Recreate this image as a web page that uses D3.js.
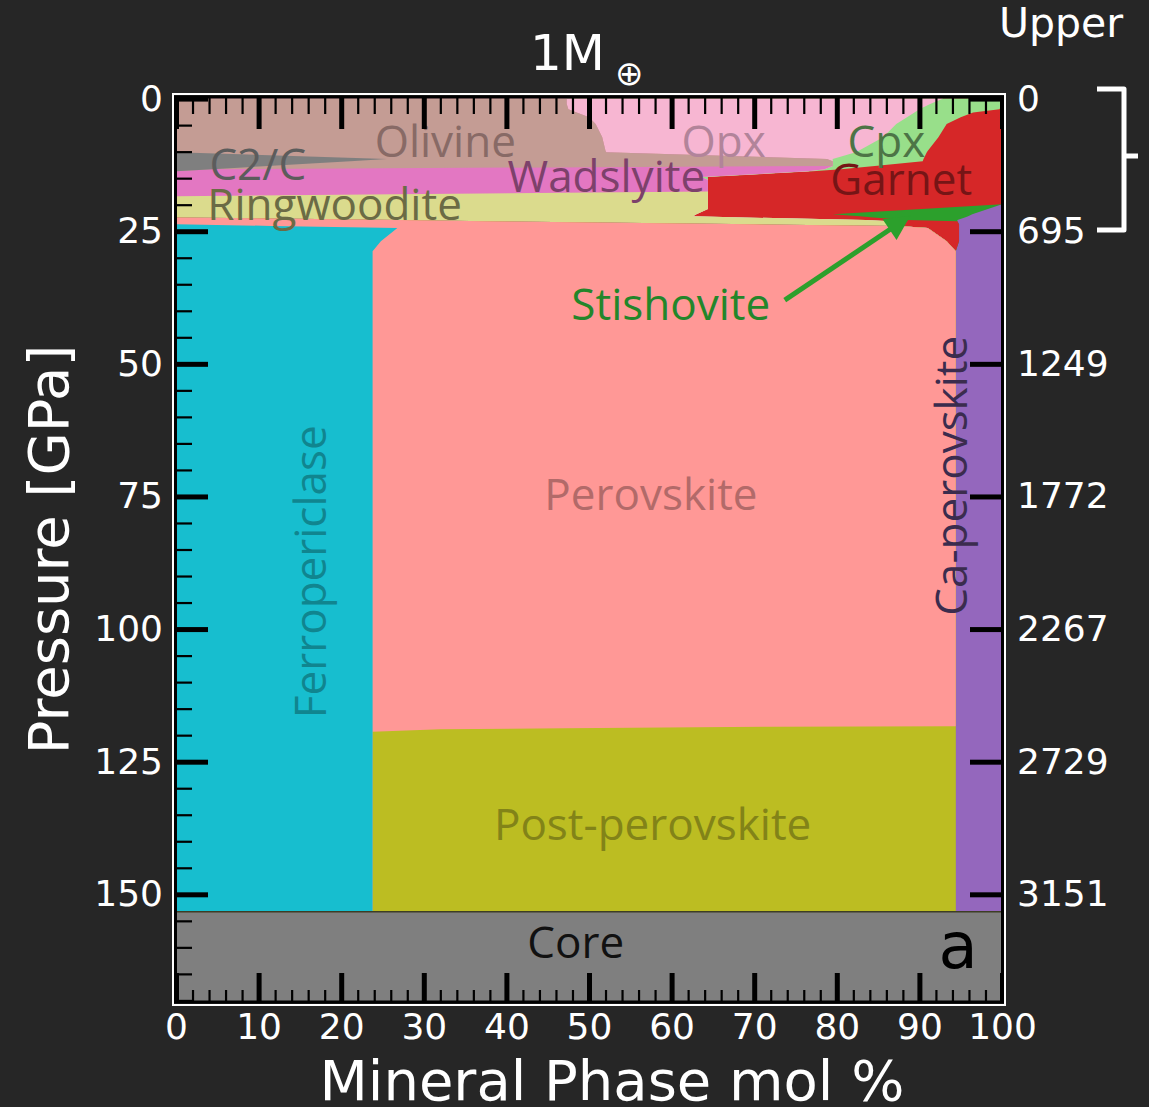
<!DOCTYPE html>
<html><head><meta charset="utf-8">
<script src="https://cdn.jsdelivr.net/npm/d3@7"></script>
<style>html,body{margin:0;padding:0;background:#262626;} svg{display:block}</style>
</head><body><svg id="c" width="1149" height="1107"></svg>
<script>
// ---------------- DATA ----------------
// pressure samples (GPa) and phase abundance (mol %) at each sample
const pressure       = [0, 1, 2, 2.6, 3.5, 4.8, 7.3, 9.9, 10.1, 11.4, 11.8, 12.7, 13.3, 13.7, 14.8, 15.3, 17.5, 18.4, 19.9, 20.8, 21.8, 22.2, 22.4, 22.9, 23.1, 23.7, 24.0, 24.4, 26.9, 28.8, 118.3, 118.4, 118.7, 118.9, 119.34, 153.3];
const ferropericlase = [0,0,0,0,0,0,0,0,0,0,0,0,0,0,0,0,0,0,0,0,0,0,0,0,0,0, 11.5, 26.8, 24.8, 23.8, 23.8, 23.8, 23.8, 23.8, 23.8, 23.8];
const perovskite     = [0,0,0,0,0,0,0,0,0,0,0,0,0,0,0,0,0,0,0,0,0,0, 0, 26.9, 37.6, 69.9, 76.0, 64.2, 68.5, 70.6, 70.6, 48.2, 23.4, 8.2, 0, 0];
const postPerovskite = [0,0,0,0,0,0,0,0,0,0,0,0,0,0,0,0,0,0,0,0,0,0,0,0,0,0,0,0,0,0,0, 22.4, 47.2, 62.4, 70.6, 70.6];
const c2c            = [0,0,0,0,0,0,0,0,0, 25.5, 21.1, 11.1, 4.4, 0,0,0,0,0,0,0,0,0,0,0,0,0,0,0,0,0,0,0,0,0,0,0];
const olivine        = [47.3, 47.3, 47.5, 48.5, 50.0, 50.8, 51.6, 52.0, 52.1, 53.3, 58.4, 68.4, 0, 0,0,0,0,0,0,0,0,0,0,0,0,0,0,0,0,0,0,0,0,0,0,0];
const wadslyite      = [0,0,0,0,0,0,0,0,0,0,0,0, 74.1, 76.5, 63.6, 64.4, 64.4, 0, 0,0,0,0,0,0,0,0,0,0,0,0,0,0,0,0,0,0];
const ringwoodite    = [0,0,0,0,0,0,0,0,0,0,0,0,0,0,0,0,0, 64.4, 64.4, 64.4, 63.0, 62.6, 68.6, 56.6, 48.9, 17.1, 0, 0,0,0,0,0,0,0,0,0];
const opx            = [45.6, 44.0, 42.5, 40.9, 38.5, 36.4, 34.0, 30.6, 30.2, 0.7, 0,0,0,0,0,0,0,0,0,0,0,0,0,0,0,0,0,0,0,0,0,0,0,0,0,0];
const cpx            = [7.1, 8.7, 9.7, 7.1, 6.5, 6.1, 6.7, 8.4, 8.6, 11.0, 10.9, 5.1, 2.0, 0.6, 0.8, 0,0,0,0,0,0,0,0,0,0,0,0,0,0,0,0,0,0,0,0,0];
const garnet         = [0, 0, 0.3, 3.5, 5.0, 6.7, 7.7, 9.0, 9.1, 9.5, 9.6, 15.4, 19.5, 22.9, 35.6, 35.6, 35.6, 35.6, 35.6, 25.9, 16.5, 20.2, 15.8, 5.0, 8.1, 7.8, 7.3, 3.8, 1.5, 0, 0,0,0,0,0,0];
const stishovite     = [0,0,0,0,0,0,0,0,0,0,0,0,0,0,0,0,0,0,0, 8.0, 16.9, 13.1, 11.1, 6.1, 0, 0,0,0,0,0,0,0,0,0,0,0];
const caPerovskite   = [0,0,0,0,0,0,0,0,0,0,0,0,0,0,0,0,0,0,0, 1.7, 3.6, 4.1, 4.5, 5.4, 5.4, 5.2, 5.2, 5.2, 5.2, 5.6, 5.6, 5.6, 5.6, 5.6, 5.6, 5.6];

const phaseKeys   = ["Fp","Pv","PPv","C2C","Ol","Wad","Ring","Opx","Cpx","Gt","St","CaPv"];
const phaseSeries = [ferropericlase, perovskite, postPerovskite, c2c, olivine, wadslyite, ringwoodite, opx, cpx, garnet, stishovite, caPerovskite];
const phaseColors = ["#17becf","#ff9896","#bcbd22","#7f7f7f","#c49c94","#e377c2","#dbdb8d","#f7b6d2","#98df8a","#d62728","#2ca02c","#9467bd"];

const coreRange = [153.3, 170.3];
const pressureTicks = [0, 25, 50, 75, 100, 125, 150];
const depthLabels = ["0", "695", "1249", "1772", "2267", "2729", "3151"];
const molTicks = [0, 10, 20, 30, 40, 50, 60, 70, 80, 90, 100];

// labels: [text, x (mol %), pressure (GPa), color, rotated]
const phaseLabels = [
  ["Olivine", 32.6, 11.0, "#886a66", false],
  ["C2/C", 9.9, 15.3, "#5c5c5c", false],
  ["Opx", 66.3, 11.0, "#b2849a", false],
  ["Cpx", 86.0, 11.0, "#4d7446", false],
  ["Wadslyite", 52.1, 17.6, "#7d416b", false],
  ["Garnet", 87.8, 18.2, "#761516", false],
  ["Ringwoodite", 19.2, 22.9, "#6b6b45", false],
  ["Stishovite", 59.9, 41.7, "#23862a", false],
  ["Perovskite", 57.5, 77.6, "#b26a69", false],
  ["Post-perovskite", 57.7, 139.8, "#828318", false],
  ["Core", 48.4, 162.0, "#111111", false],
  ["Ferropericlase", 16.1, 89.2, "#10858f", true],
  ["Ca-perovskite", 93.7, 71.1, "#3b2c4e", true]
];
const arrowTail = [73.7, 38.0];
const arrowTip  = [88.4, 22.6];

// ---------------- CHART ----------------
const W = 1149, H = 1107;
const svg = d3.select("#c");
svg.append("rect").attr("width", W).attr("height", H).attr("fill", "#262626");

const x = d3.scaleLinear().domain([0, 100]).range([176, 1002]);
const y = d3.scaleLinear().domain([-0.3, 170.3]).range([97, 1002]);

const rows = pressure.map((p, i) => {
  const r = {P: p};
  phaseKeys.forEach((k, j) => r[k] = phaseSeries[j][i]);
  return r;
});
const layers = d3.stack().keys(phaseKeys)(rows);

// painter's order: each layer filled from the left edge to its cumulative boundary, drawn right-most first
const area = d3.area()
  .curve(d3.curveLinear)
  .y(d => y(d.data.P))
  .x0(() => x(0))
  .x1(d => x(d[1]));

const gPlot = svg.append("g");
layers.slice().reverse().forEach(layer => {
  const idx = phaseKeys.indexOf(layer.key);
  gPlot.append("path").datum(layer).attr("d", area).attr("fill", phaseColors[idx]);
});

// core
gPlot.append("rect")
  .attr("x", x(0)).attr("width", x(100) - x(0))
  .attr("y", y(coreRange[0])).attr("height", y(coreRange[1]) - y(coreRange[0]))
  .attr("fill", "#7f7f7f");
gPlot.append("line")
  .attr("x1", x(0)).attr("x2", x(100))
  .attr("y1", y(coreRange[0])).attr("y2", y(coreRange[0]))
  .attr("stroke", "#3d3d25").attr("stroke-width", 1.5);

// labels
const labelFont = "'Open Sans', 'Noto Sans', sans-serif";
phaseLabels.forEach(([t, xv, pv, col, rot]) => {
  const tx = svg.append("text").text(t)
    .attr("font-family", labelFont).attr("font-size", 44)
    .attr("fill", col).attr("text-anchor", "middle");
  if (rot) {
    tx.attr("dominant-baseline", "central")
      .attr("transform", `translate(${x(xv)},${y(pv)}) rotate(-90)`);
  } else {
    tx.attr("x", x(xv)).attr("y", y(pv));
  }
});
svg.append("text").text("a")
  .attr("x", x(94.7)).attr("y", y(163.9))
  .attr("font-family", "'DejaVu Sans', sans-serif").attr("font-size", 64)
  .attr("fill", "#000").attr("text-anchor", "middle");

// stishovite arrow
const defs = svg.append("defs");
defs.append("marker").attr("id", "ah")
  .attr("viewBox", "0 0 10 10").attr("refX", 8).attr("refY", 5)
  .attr("markerWidth", 5.5).attr("markerHeight", 5).attr("orient", "auto")
  .append("path").attr("d", "M0,0 L10,5 L0,10 z").attr("fill", "#2ca02c");
svg.append("line")
  .attr("x1", x(arrowTail[0])).attr("y1", y(arrowTail[1]))
  .attr("x2", x(arrowTip[0])).attr("y2", y(arrowTip[1]))
  .attr("stroke", "#2ca02c").attr("stroke-width", 5)
  .attr("marker-end", "url(#ah)");

// axes
const tickFont = "'DejaVu Sans', sans-serif";
function styleAxis(g, width) {
  g.select(".domain").remove();
  g.selectAll(".tick line").attr("stroke", "#000").attr("stroke-width", width);
  g.selectAll(".tick text").attr("fill", "#fff").attr("font-size", 36).attr("font-family", tickFont);
  g.attr("font-family", tickFont);
}
const minorY = d3.range(0, 171, 5).filter(v => v % 25 !== 0);
const minorX = d3.range(0, 101, 2).filter(v => v % 10 !== 0);

// left
svg.append("g").attr("transform", `translate(${x(0)},0)`)
  .call(d3.axisLeft(y).tickValues(minorY).tickSizeInner(-16).tickSizeOuter(0).tickFormat(""))
  .call(g => styleAxis(g, 2.2));
svg.append("g").attr("transform", `translate(${x(0)},0)`)
  .call(d3.axisLeft(y).tickValues(pressureTicks).tickSizeInner(-32).tickSizeOuter(0).tickPadding(13).tickFormat(d3.format("d")))
  .call(g => styleAxis(g, 5));
// right
svg.append("g").attr("transform", `translate(${x(100)},0)`)
  .call(d3.axisRight(y).tickValues(pressureTicks).tickSizeInner(-32).tickSizeOuter(0).tickPadding(15)
    .tickFormat((d, i) => depthLabels[i]))
  .call(g => styleAxis(g, 5));
// top
svg.append("g").attr("transform", `translate(0,${y.range()[0]})`)
  .call(d3.axisTop(x).tickValues(minorX).tickSizeInner(-17).tickSizeOuter(0).tickFormat(""))
  .call(g => styleAxis(g, 2.2));
svg.append("g").attr("transform", `translate(0,${y.range()[0]})`)
  .call(d3.axisTop(x).tickValues(molTicks).tickSizeInner(-32).tickSizeOuter(0).tickFormat(""))
  .call(g => styleAxis(g, 5));
// bottom
svg.append("g").attr("transform", `translate(0,${y.range()[1]})`)
  .call(d3.axisBottom(x).tickValues(minorX).tickSizeInner(-12).tickSizeOuter(0).tickFormat(""))
  .call(g => styleAxis(g, 2.2));
svg.append("g").attr("transform", `translate(0,${y.range()[1]})`)
  .call(d3.axisBottom(x).tickValues(molTicks).tickSizeInner(-29).tickSizeOuter(0).tickPadding(11).tickFormat(d3.format("d")))
  .call(g => styleAxis(g, 5));

// frame
const fx0 = x(0), fx1 = x(100), fy0 = y.range()[0], fy1 = y.range()[1];
svg.append("rect").attr("x", fx0 - 3).attr("y", fy0 - 3).attr("width", fx1 - fx0 + 6).attr("height", fy1 - fy0 + 6)
  .attr("fill", "none").attr("stroke", "#fff").attr("stroke-width", 2);
svg.append("rect").attr("x", fx0 - 0.5).attr("y", fy0).attr("width", fx1 - fx0 + 1).attr("height", fy1 - fy0)
  .attr("fill", "none").attr("stroke", "#000").attr("stroke-width", 3);

// axis titles
svg.append("text").text("Pressure [GPa]")
  .attr("transform", `translate(48,${(fy0 + fy1) / 2}) rotate(-90)`)
  .attr("text-anchor", "middle").attr("dominant-baseline", "central")
  .attr("font-family", tickFont).attr("font-size", 56).attr("fill", "#fff");
svg.append("text").text("Mineral Phase mol %")
  .attr("x", 612).attr("y", 1100)
  .attr("text-anchor", "middle")
  .attr("font-family", tickFont).attr("font-size", 56).attr("fill", "#fff");

// title
const title = svg.append("text").attr("x", 530).attr("y", 70)
  .attr("font-family", tickFont).attr("fill", "#fff");
title.append("tspan").attr("font-size", 50).text("1M");
title.append("tspan").attr("font-size", 34).attr("dx", 10).attr("dy", 15).text("\u2295");

svg.append("text").text("Upper").attr("x", 999).attr("y", 37)
  .attr("font-family", tickFont).attr("font-size", 41).attr("fill", "#fff");
svg.append("path").attr("d", "M1097,89 H1124 V230 H1097 M1124,156 H1138")
  .attr("fill", "none").attr("stroke", "#fff").attr("stroke-width", 5).attr("stroke-linejoin", "round");
</script></body></html>
